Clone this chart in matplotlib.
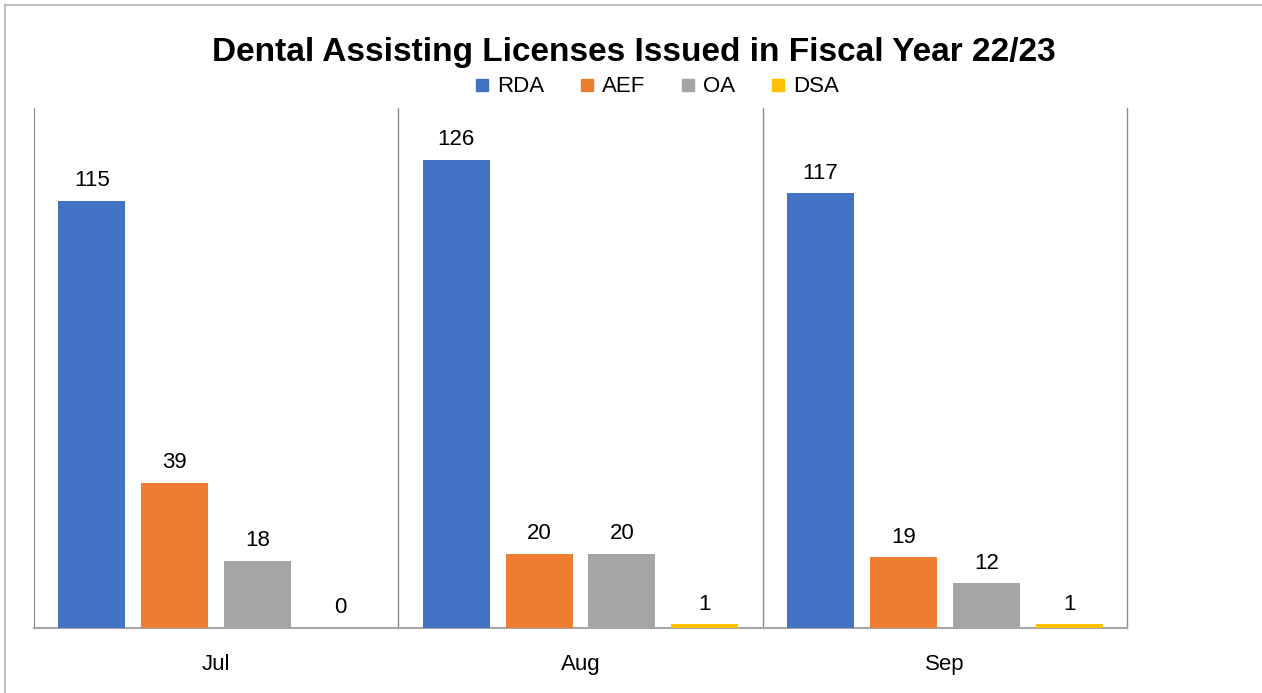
import numpy as np
import matplotlib.pyplot as plt
from matplotlib.lines import Line2D

months = ["Jul", "Aug", "Sep"]
series = ["RDA", "AEF", "OA", "DSA"]
rda = [115, 126, 117]
aef = [39, 20, 19]
oa = [18, 20, 12]
dsa = [0, 1, 1]
colors = ["#4472C4", "#ED7D31", "#A5A5A5", "#FFC000"]

plt.rcParams['font.family'] = ['Liberation Sans', 'DejaVu Sans']

W, H = 1262, 693
fig = plt.figure(figsize=(W / 100, H / 100), dpi=100)

# axes box in pixels: left 34, right 1127, top 108, bottom 628
ax = fig.add_axes([34 / W, (H - 628) / H, (1127 - 34) / W, (628 - 108) / H])

x = np.arange(len(months))
step = 83 / 365
width = 67 / 365
for k, (name, vals) in enumerate(zip(series, [rda, aef, oa, dsa])):
    bars = ax.bar(x + (k - 1.5) * step, vals, width, color=colors[k], label=name, zorder=3)
    ax.bar_label(bars, labels=[str(v) for v in vals], padding=7, fontsize=16)

ax.set_xlim(-0.5, len(months) - 0.5)
ax.set_ylim(0, 140)
ax.set_yticks([])
ax.set_xticks(x)
ax.set_xticklabels(months, fontsize=16)
ax.tick_params(axis='x', length=0, pad=19)

for s in ["top", "right"]:
    ax.spines[s].set_visible(False)
ax.spines["left"].set_color("#8C8C8C")
ax.spines["bottom"].set_color("#A6A6A6")
ax.spines["bottom"].set_linewidth(1.5)
for b in np.arange(0.5, len(months), 1.0):
    ax.axvline(b, color="#8C8C8C", lw=1, zorder=1, clip_on=False)

fig.text(634 / W, 1 - 52 / H, "Dental Assisting Licenses Issued in Fiscal Year 22/23",
         ha="center", va="center", fontsize=24, fontweight="bold")

handles = [Line2D([], [], marker="s", ls="", markersize=8, color=c) for c in colors]
fig.legend(handles, series, loc="center", bbox_to_anchor=(657 / W, 1 - 87 / H), ncol=4,
           frameon=False, fontsize=16, handlelength=0.6, handletextpad=0.4, columnspacing=1.6)

# outer chart frame (only top and left edges visible)
fig.add_artist(Line2D([5 / W, 1], [1 - 5 / H, 1 - 5 / H], transform=fig.transFigure, color="#BFBFBF", lw=1.5))
fig.add_artist(Line2D([5 / W, 5 / W], [0, 1 - 5 / H], transform=fig.transFigure, color="#BFBFBF", lw=1.5))

fig.savefig("out.png", dpi=100)
